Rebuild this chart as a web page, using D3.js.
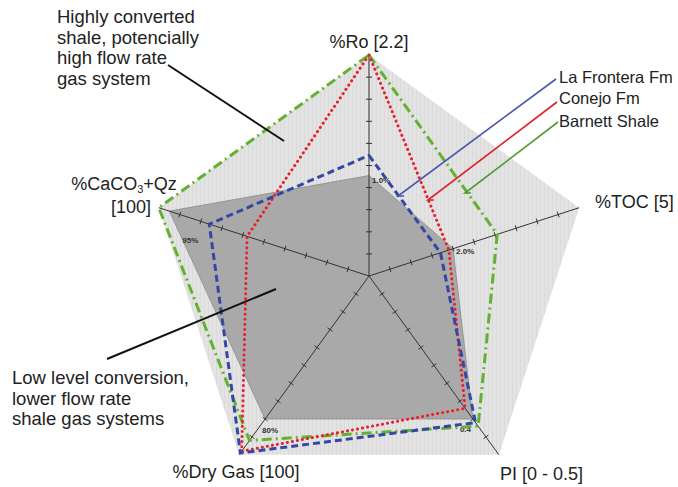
<!DOCTYPE html>
<html>
<head>
<meta charset="utf-8">
<script src="https://cdn.jsdelivr.net/npm/d3@7"></script>
<style>
  body { margin: 0; background: #fff; }
  svg { display: block; font-family: Arial, "Liberation Sans", sans-serif; }
</style>
</head>
<body>
<div id="chart"></div>
<script>
// axes, clockwise from top
const axisKeys = ['Ro', 'TOC', 'PI', 'DryGas', 'CaCO3']
const axisMax = [2.2, 5, 0.5, 100, 100]

// series values, same order as axisKeys
const laFrontera = [1.2, 1.7, 0.41, 99, 76]
const conejo = [2.2, 1.9, 0.37, 98, 58]
const barnett = [2.2, 3.05, 0.42, 92, 100]

// dark "low level conversion" polygon
const lowConversion = [1.0, 2.0, 0.4, 80, 95]
const lowConversionLabels = ['1.0%', '2.0%', '0.4', '80%', '95%']

const seriesNames = ['La Frontera Fm', 'Conejo Fm', 'Barnett Shale']

const W = 678
const H = 487
const cx = 369
const cy = 276
const R = 221

const svg = d3.select('#chart').append('svg')
	.attr('width', W)
	.attr('height', H)

const scales = axisMax.map(m => d3.scaleLinear().domain([0, m]).range([0, R]))
const angle = i => i * 2 * Math.PI / axisKeys.length

function pt(i, v) {
	const r = scales[i](v)
	const a = angle(i)
	return [cx + r * Math.sin(a), cy - r * Math.cos(a)]
}

const closed = d3.line().curve(d3.curveLinearClosed)

// faint vertical hatching in the background pentagon
const defs = svg.append('defs')
const pat = defs.append('pattern')
	.attr('id', 'stripes')
	.attr('width', 4)
	.attr('height', 4)
	.attr('patternUnits', 'userSpaceOnUse')
pat.append('rect').attr('width', 4).attr('height', 4).attr('fill', '#e3e3e3')
pat.append('line').attr('x1', 0.5).attr('x2', 0.5).attr('y1', 0).attr('y2', 4)
	.attr('stroke', '#dadada').attr('stroke-width', 1)

// outer pentagon
svg.append('path')
	.attr('d', closed(axisMax.map((m, i) => pt(i, m))))
	.attr('fill', 'url(#stripes)')

// inner dark pentagon
svg.append('path')
	.attr('d', closed(lowConversion.map((v, i) => pt(i, v))))
	.attr('fill', '#a9a9a9')
	.attr('stroke', '#8a8a8a')
	.attr('stroke-width', 0.8)

// axes with ticks
const axisG = svg.append('g')
axisKeys.forEach((k, i) => {
	const end = pt(i, axisMax[i])
	axisG.append('line')
		.attr('x1', cx).attr('y1', cy)
		.attr('x2', end[0]).attr('y2', end[1])
		.attr('stroke', '#333')
		.attr('stroke-width', 1)
	const a = angle(i)
	const px = Math.cos(a), py = Math.sin(a)
	const tickVals = d3.range(1, 10).map(t => axisMax[i] * t / 10)
	axisG.selectAll(null).data(tickVals).enter().append('line')
		.attr('x1', d => pt(i, d)[0] - px * 3)
		.attr('y1', d => pt(i, d)[1] - py * 3)
		.attr('x2', d => pt(i, d)[0] + px * 3)
		.attr('y2', d => pt(i, d)[1] + py * 3)
		.attr('stroke', '#333')
		.attr('stroke-width', 1)
})

// small labels on the dark polygon vertices
const labelOffsets = [[3, 7], [3, 5], [-13, 13], [-3, 14], [13, 32]]
svg.append('g').selectAll('text')
	.data(lowConversionLabels)
	.enter().append('text')
	.attr('x', (d, i) => pt(i, lowConversion[i])[0] + labelOffsets[i][0])
	.attr('y', (d, i) => pt(i, lowConversion[i])[1] + labelOffsets[i][1])
	.attr('font-size', 8)
	.attr('font-weight', 'bold')
	.attr('fill', '#333')
	.text(d => d)

// series
const series = [
	{ name: seriesNames[0], values: laFrontera, color: '#3347a3', dash: '7,4', cap: 'butt' },
	{ name: seriesNames[1], values: conejo, color: '#e8202b', dash: '0.1,5', cap: 'round' },
	{ name: seriesNames[2], values: barnett, color: '#63b22f', dash: '10,4,2,4', cap: 'butt' },
]

svg.append('g').selectAll('path')
	.data(series.slice().reverse())
	.enter().append('path')
	.attr('d', d => closed(d.values.map((v, i) => pt(i, v))))
	.attr('fill', 'none')
	.attr('stroke', d => d.color)
	.attr('stroke-width', 3)
	.attr('stroke-dasharray', d => d.dash)
	.attr('stroke-linecap', d => d.cap)
	.attr('stroke-linejoin', 'round')

// legend leaders
const leaderStart = [[398, 196], [428, 200], [465, 193]]
const leaderEnd = [[556, 79], [557, 102], [558, 122]]
const leaderColor = ['#4a58a8', '#e02028', '#4f9e32']
const legendY = [83, 104, 127]

series.forEach((s, i) => {
	const [x0, y0] = leaderStart[i]
	const [x1, y1] = leaderEnd[i]
	svg.append('path')
		.attr('d', `M${x0 + 6},${y0}L${x0},${y0}L${x1},${y1}`)
		.attr('fill', 'none')
		.attr('stroke', leaderColor[i])
		.attr('stroke-width', 1.6)
	svg.append('text')
		.attr('x', 559)
		.attr('y', legendY[i])
		.attr('font-size', 16.5)
		.attr('fill', '#222')
		.text(s.name)
})

// axis titles
const titles = svg.append('g').attr('font-size', 18).attr('fill', '#222')
titles.append('text').attr('x', 369).attr('y', 48).attr('text-anchor', 'middle').text('%Ro [2.2]')
titles.append('text').attr('x', 595).attr('y', 208).text('%TOC [5]')
titles.append('text').attr('x', 500).attr('y', 480).text('PI [0 - 0.5]')
titles.append('text').attr('x', 236).attr('y', 478).attr('text-anchor', 'middle').text('%Dry Gas [100]')
const ca = titles.append('text').attr('x', 124).attr('y', 190).attr('text-anchor', 'middle')
ca.append('tspan').text('%CaCO')
ca.append('tspan').attr('font-size', 11).attr('dy', 3).text('3')
ca.append('tspan').attr('dy', -3).text('+Qz')
titles.append('text').attr('x', 131).attr('y', 213).attr('text-anchor', 'middle').text('[100]')

// annotations
const noteHigh = ['Highly converted', 'shale, potencially', 'high flow rate', 'gas system']
const noteLow = ['Low level conversion,', 'lower flow rate', 'shale gas systems']

function note(lines, x, y) {
	const t = svg.append('text').attr('font-size', 18.5).attr('fill', '#222')
	lines.forEach((l, i) => {
		t.append('tspan').attr('x', x).attr('y', y + i * 20.5).text(l)
	})
}
note(noteHigh, 57, 23)
note(noteLow, 12, 384)

svg.append('line').attr('x1', 168).attr('y1', 65).attr('x2', 284).attr('y2', 141)
	.attr('stroke', '#111').attr('stroke-width', 2)
svg.append('line').attr('x1', 107).attr('y1', 359).attr('x2', 276).attr('y2', 289)
	.attr('stroke', '#111').attr('stroke-width', 2)
</script>
</body>
</html>
